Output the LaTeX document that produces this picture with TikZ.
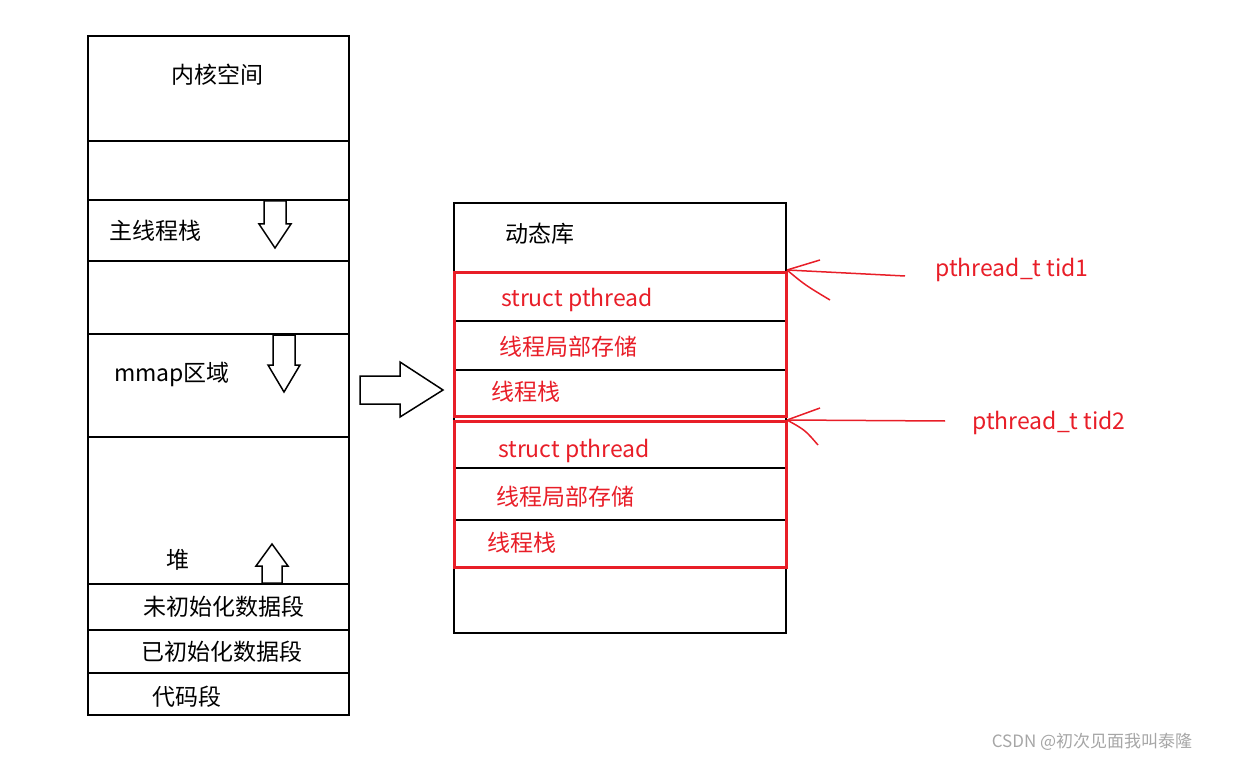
\documentclass[tikz,border=0pt]{standalone}
\usepackage{fontspec}
\setmainfont{Noto Sans CJK SC}
\usetikzlibrary{shapes.arrows}
\definecolor{rd}{RGB}{232,30,40}
\begin{document}
\begin{tikzpicture}[x=1pt,y=-1pt,
  t/.style={font=\fontsize{23}{26}\selectfont,inner sep=0pt,anchor=center},
  r/.style={t,text=rd},
  blk/.style={draw=black,line width=1.6pt},
  barr/.style={draw=black,line width=1.5pt,fill=white}]
\useasboundingbox (0,0) rectangle (1235,762);
% left column
\draw[blk] (88,36) rectangle (349,715);
\foreach \y in {141,200,261,334,437,584,630,673}
  \draw[blk] (88,\y) -- (349,\y);
\node[t] (k) at (217,75) {内核空间};
\node[t] (ms) at (155,231) {主线程栈};
\node[t] (mm) at (172,374) {mmap区域};
\node[t] (h) at (178,560) {堆};
\node[t] (bss) at (224,607) {未初始化数据段};
\node[t] (data) at (222,652) {已初始化数据段};
\node[t] (code) at (187,697) {代码段};
% block arrows
\draw[barr] (264,201) -- (286,201) -- (286,224) -- (291,224) -- (275,248) -- (259,224) -- (264,224) -- cycle;
\draw[barr] (273,335) -- (295,335) -- (295,365) -- (300,365) -- (284,392) -- (268,365) -- (273,365) -- cycle;
\draw[barr] (262,583) -- (282,583) -- (282,566) -- (288,566) -- (272,544) -- (256,566) -- (262,566) -- cycle;
\draw[barr] (360,376) -- (400,376) -- (400,362) -- (443,390) -- (400,417) -- (400,404) -- (360,404) -- cycle;
% right box
\draw[blk] (454,203) rectangle (786,633);
\foreach \y in {321,370,468,520}
  \draw[black,line width=1.3pt] (454,\y) -- (786,\y);
\draw[rd,line width=3pt] (454,273) rectangle (786,416);
\draw[rd,line width=3pt] (454,421) rectangle (786,567);
\node[t] (lib) at (540,234) {动态库};
\node[r] (s1) at (577,300) {struct pthread};
\node[r] (l1) at (568,347) {线程局部存储};
\node[r] (k1) at (526,392) {线程栈};
\node[r] (s2) at (574,451) {struct pthread};
\node[r] (l2) at (565,497) {线程局部存储};
\node[r] (k2) at (522,543) {线程栈};
% red labels and arrows
\node[r] (t1) at (1012,270) {pthread\_t tid1};
\node[r] (t2) at (1049,423) {pthread\_t tid2};
\coordinate (p1) at (787,270);
\coordinate (p2) at (787,420);
\draw[rd,line width=1.5pt] (905,276) -- (p1);
\draw[rd,line width=1.5pt] (p1) -- (820,260);
\draw[rd,line width=1.5pt] (p1) .. controls (805,285) .. (830,300);
\draw[rd,line width=1.5pt] (945,421) -- (p2);
\draw[rd,line width=1.5pt] (p2) -- (820,408);
\draw[rd,line width=1.5pt] (p2) .. controls (805,430) .. (818,445);
% watermark
\node[t,font=\fontsize{17}{20}\selectfont,text=black!35] (wm) at (1092,742) {CSDN @初次见面我叫泰隆};
\end{tikzpicture}
\end{document}
